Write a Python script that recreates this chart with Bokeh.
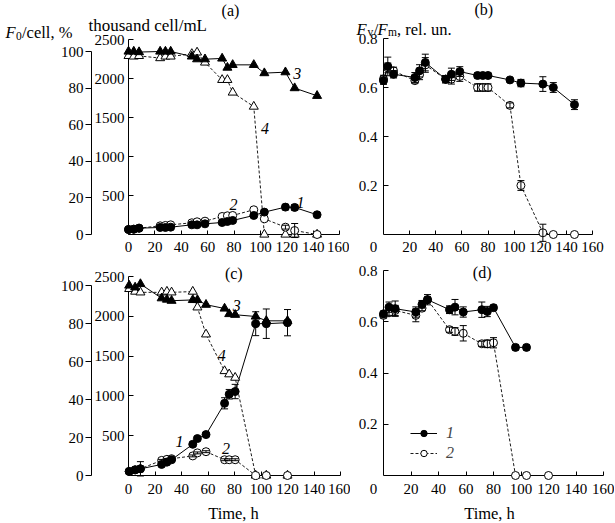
from bokeh.plotting import figure
from bokeh.models import Range1d, LinearAxis, FixedTicker, Legend, LegendItem
from bokeh.layouts import column, row
from bokeh.embed import file_html
from bokeh.resources import INLINE
from bokeh.core.properties import value

FONT = "Liberation Serif"
TICK_FS = "15px"

# ---------------- data ----------------
time_ticks = [0, 20, 40, 60, 80, 100, 120, 140, 160]
cell_ticks = [500, 1000, 1500, 2000, 2500]
pct_ticks = [0, 20, 40, 60, 80, 100]
fvfm_ticks = [0.2, 0.4, 0.6, 0.8]

# panel (a)
ta = [0, 4, 8, 24, 28, 32, 48, 52, 58, 71, 75, 79, 95, 103, 119, 126, 143]
a_cells1 = [64, 68, 81, 90, 90, 94, 124, 124, 137, 154, 167, 180, 244, 287, 351, 347, 253]
a_cells1_err = [0, 0, 0, 0, 0, 0, 0, 0, 0, 0, 0, 0, 0, 0, 35, 35, 0]
a_cells2 = [64, 68, 81, 111, 116, 124, 150, 163, 171, 231, 240, 244, 317, 201, 94, 51, 0]
a_cells2_err = [0, 0, 0, 0, 0, 0, 0, 0, 0, 0, 0, 0, 0, 0, 25, 90, 0]
a_f0_3 = [100, 100, 99.7, 100, 100, 100, 97.3, 95.8, 95.8, 96.2, 91.2, 92.7, 92.7, 88.2, 88.7, 80, 75.8]
a_f0_4 = [97.6, 97.3, 97.6, 96.4, 97.3, 97.3, 98.7, 99.5, 94, 84.5, 84.5, 77.6, 69.9, 0, 0, 0, 0]

# panel (b)
tb = [0, 3.3, 7.7, 24, 27.6, 32, 47.6, 52, 58.4, 72, 76, 80, 96.8, 105.2, 122, 130, 146.2]
b_fv1 = [0.628, 0.686, 0.654, 0.641, 0.668, 0.702, 0.634, 0.654, 0.665, 0.649, 0.649, 0.649,
         0.631, 0.618, 0.614, 0.600, 0.530]
b_fv1_err = [0.015, 0.038, 0.015, 0.02, 0.025, 0.034, 0.015, 0.025, 0.02, 0.01, 0.01, 0.01,
             0.005, 0.015, 0.03, 0.02, 0.02]
b_fv2 = [0.635, 0.68, 0.668, 0.628, 0.652, 0.692, 0.634, 0.634, 0.645, 0.600, 0.600, 0.600,
         0.527, 0.200, 0.007, 0.0, 0.0]
b_fv2_err = [0.015, 0.02, 0.015, 0.01, 0.02, 0.03, 0.015, 0.02, 0.02, 0.015, 0.015, 0.015,
             0.01, 0.02, 0.035, 0, 0]

# panel (c)
tc = [0.5, 5, 9, 25, 29, 32.5, 48.5, 52, 58.5, 72.5, 76, 80.5, 96, 104, 120]
c_cells1 = [51, 71, 84, 139, 168, 198, 392, 464, 514, 907, 1021, 1055, 1907, 1907, 1920]
c_cells1_err = [0, 0, 90, 0, 0, 0, 25, 25, 25, 70, 60, 90, 150, 185, 165]
c_cells2 = [51, 71, 84, 190, 203, 211, 246, 284, 299, 198, 198, 198, 0, 0, 0]
c_cells2_err = [0, 0, 0, 12, 12, 12, 12, 12, 12, 12, 12, 12, 0, 0, 0]
c_f0_3 = [100, 99, 100.8, 93.3, 92.6, 92, 92.4, 92.4, 89.9, 87.9, 85, 84.6, 83.7, 81.4, 81.4]
c_f0_4 = [98.2, 96.8, 96.4, 96.4, 96.8, 96.4, 96.8, 88.5, 74.3, 55, 53.3, 51.5, 0, 0, 0]

# panel (d)
td1 = [0, 4, 8.5, 23.5, 28, 32, 48, 52, 58, 71.5, 75.5, 80, 96, 104]
d_fv1 = [0.631, 0.657, 0.651, 0.638, 0.668, 0.686, 0.647, 0.657, 0.638, 0.647, 0.640, 0.655, 0.500, 0.500]
d_fv1_err = [0.01, 0.02, 0.03, 0.02, 0.015, 0.02, 0.015, 0.03, 0.02, 0.03, 0.02, 0.01, 0.01, 0.01]
td2 = [0, 4, 8.5, 23.5, 28, 32, 48, 52, 58, 71.5, 75.5, 80, 96, 104, 120]
d_fv2 = [0.625, 0.635, 0.644, 0.625, 0.653, 0.686, 0.569, 0.562, 0.555, 0.514, 0.514, 0.518, 0, 0, 0]
d_fv2_err = [0.01, 0.01, 0.02, 0.025, 0.01, 0.01, 0.01, 0.015, 0.03, 0.01, 0.015, 0.02, 0, 0, 0]

# curve number labels: (text, time, value, range)
a_curve_labels = [("1", 130.4, 414, "default"), ("2", 79.6, 385, "default"),
                  ("3", 127.9, 88.1, "pct"), ("4", 103.6, 58.1, "pct")]
c_curve_labels = [("1", 38.4, 422, "default"), ("2", 73.6, 337, "default"),
                  ("3", 81.7, 89.7, "pct"), ("4", 70.3, 63.2, "pct")]


# ---------------- helpers ----------------
def style_axis(ax, ticks, tick_in=5, tick_out=0, standoff=4):
    ax.ticker = FixedTicker(ticks=ticks)
    ax.axis_line_color = "black"
    ax.axis_line_width = 1
    ax.major_tick_line_color = "black"
    ax.major_tick_line_width = 1
    ax.major_tick_in = tick_in
    ax.major_tick_out = tick_out
    ax.minor_tick_line_color = None
    ax.major_label_text_font = FONT
    ax.major_label_text_font_size = TICK_FS
    ax.major_label_text_color = "black"
    ax.major_label_standoff = standoff


def make_fig(fw, fh, bl, br, bt, bb, ymax):
    p = figure(frame_width=fw, frame_height=fh, min_border_left=bl, min_border_right=br,
               min_border_top=bt, min_border_bottom=bb,
               x_range=Range1d(0, 160), y_range=Range1d(0, ymax),
               output_backend="svg", toolbar_location=None)
    p.outline_line_color = None
    p.xgrid.visible = False
    p.ygrid.visible = False
    p.background_fill_color = "white"
    p.border_fill_color = "white"
    return p


def series(p, t, v, err=None, filled=True, marker="circle", dashed=False, rng="default", size=8):
    kw = {} if rng == "default" else {"y_range_name": rng}
    ln = p.line(t, v, line_color="black", line_width=0.9 if dashed else 1.0,
                line_dash="3 2" if dashed else "solid", **kw)
    sc = p.scatter(t, v, marker=marker, size=size, fill_color="black" if filled else "white",
                   line_color="black", line_width=1, level="overlay", **kw)
    if err:
        xs = [ti for ti, e in zip(t, err) if e > 0]
        lo = [vi - e for vi, e in zip(v, err) if e > 0]
        hi = [vi + e for vi, e in zip(v, err) if e > 0]
        p.segment(xs, lo, xs, hi, line_color="black", line_width=1, level="overlay", **kw)
        p.scatter(xs + xs, lo + hi, marker="dash", size=7, line_color="black", line_width=1,
                  level="overlay", **kw)
    return ln, sc


def page_text(p, g, px, py, text, size="16.5px", style="normal", align="left", baseline="alphabetic"):
    """Place a text given its page position (pixels), converted to the figure's data space."""
    fl, fb, fw, fh, ymax = g
    x = (px - fl) / fw * 160
    y = (fb - py) / fh * ymax
    p.text(x=[x], y=[y], text=[text], text_font=value(FONT), text_font_size=value(size),
           text_font_style=value(style), text_align=value(align), text_baseline=value(baseline),
           text_color="black", level="overlay")


def curve_labels(p, labels):
    for txt, x, y, rng in labels:
        kw = {} if rng == "default" else {"y_range_name": rng}
        p.text(x=[x], y=[y], text=[txt], text_font=value(FONT), text_font_size=value("16px"),
               text_font_style=value("italic"), text_align=value("center"),
               text_baseline=value("middle"), text_color="black", level="overlay", **kw)


def cell_panel(p, pct_end, standoff):
    style_axis(p.xaxis[0], time_ticks, tick_in=4, tick_out=0, standoff=standoff)
    cax = p.yaxis[0]
    style_axis(cax, cell_ticks, tick_in=5, tick_out=0, standoff=4)
    cax.bounds = (0, cell_ticks[-1])
    p.extra_y_ranges = {"pct": Range1d(0, pct_end)}
    pax = LinearAxis(y_range_name="pct", bounds=(0, 100))
    style_axis(pax, pct_ticks, tick_in=0, tick_out=6, standoff=2)
    p.add_layout(pax, "left")


def fv_panel(p, g, standoff):
    # the "0" of the time axis sits a little left of the vertical axis, as in the original
    style_axis(p.xaxis[0], time_ticks[1:], tick_in=4, tick_out=0, standoff=standoff)
    style_axis(p.yaxis[0], fvfm_ticks, tick_in=5, tick_out=0, standoff=6)
    page_text(p, g, g[0] - 10, g[1] + standoff, str(time_ticks[0]), size=TICK_FS,
              align="center", baseline="top")


# ---------------- panel (a) ----------------
ya = 2500 * 196 / 195
ga = (128, 234, 211, 196, ya)
pa = make_fig(211, 196, 128, 10, 38, 24, ya)
cell_panel(pa, 100 * 196 / 183, 7)
series(pa, ta, a_f0_4, filled=False, marker="triangle", dashed=True, rng="pct", size=9)
series(pa, ta, a_f0_3, filled=True, marker="triangle", rng="pct", size=9)
series(pa, ta, a_cells2, a_cells2_err, filled=False, dashed=True)
series(pa, ta, a_cells1, a_cells1_err, filled=True)
curve_labels(pa, a_curve_labels)
page_text(pa, ga, 5, 32, "F", style="italic")
page_text(pa, ga, 15.5, 35, "0", size="11.5px")
page_text(pa, ga, 21.5, 32, "/cell, %")
page_text(pa, ga, 88, 25, "thousand cell/mL", size="17px")
page_text(pa, ga, 230, 9.5, "(a)", size="16px", align="center", baseline="middle")

# ---------------- panel (b) ----------------
gb = (383, 234, 209, 196, 0.8)
pb = make_fig(209, 196, 34, 22, 38, 24, 0.8)
fv_panel(pb, gb, 7)
series(pb, tb, b_fv2, b_fv2_err, filled=False, dashed=True)
series(pb, tb, b_fv1, b_fv1_err, filled=True)
page_text(pb, gb, 356, 28.5, "F", style="italic")
page_text(pb, gb, 367, 31.5, "v", size="11.5px")
page_text(pb, gb, 373.3, 28.5, "/")
page_text(pb, gb, 377, 28.5, "F", style="italic")
page_text(pb, gb, 387.5, 31.5, "m", size="11.5px")
page_text(pb, gb, 396.5, 28.5, ", rel. un.")
page_text(pb, gb, 483.3, 8.5, "(b)", size="16px", align="center", baseline="middle")

# ---------------- panel (c) ----------------
yc = 2500 * 205 / 199
gc = (128, 475, 212, 205, yc)
pc = make_fig(212, 205, 128, 10, 12, 47, yc)
cell_panel(pc, 100 * 205 / 190, 8)
series(pc, tc, c_f0_4, filled=False, marker="triangle", dashed=True, rng="pct", size=9)
series(pc, tc, c_f0_3, filled=True, marker="triangle", rng="pct", size=9)
series(pc, tc, c_cells2, c_cells2_err, filled=False, dashed=True)
series(pc, tc, c_cells1, c_cells1_err, filled=True)
curve_labels(pc, c_curve_labels)
page_text(pc, gc, 233.3, 273.3, "(c)", size="16px", align="center", baseline="middle")
page_text(pc, gc, 233, 513, "Time, h", size="16.5px", align="center", baseline="middle")

# ---------------- panel (d) ----------------
gd = (383, 475, 220, 205, 0.8)
pd = make_fig(220, 205, 33, 11, 12, 47, 0.8)
fv_panel(pd, gd, 8)
l2, s2 = series(pd, td2, d_fv2, d_fv2_err, filled=False, dashed=True)
l1, s1 = series(pd, td1, d_fv1, d_fv1_err, filled=True)
page_text(pd, gd, 481.7, 271.7, "(d)", size="16px", align="center", baseline="middle")
page_text(pd, gd, 489, 513, "Time, h", size="16.5px", align="center", baseline="middle")
leg = Legend(items=[LegendItem(label="1", renderers=[l1, s1]),
                    LegendItem(label="2", renderers=[l2, s2])],
             location=(27, 13), orientation="vertical",
             label_text_font=FONT, label_text_font_size="16px", label_text_font_style="italic",
             glyph_width=27, glyph_height=16, label_height=16, label_standoff=9, spacing=2,
             padding=0, margin=0, border_line_color=None, background_fill_alpha=0)
pd.add_layout(leg)

layout = column(row(pa, pb), row(pc, pd))
open("out.html", "w").write(file_html(layout, INLINE))
